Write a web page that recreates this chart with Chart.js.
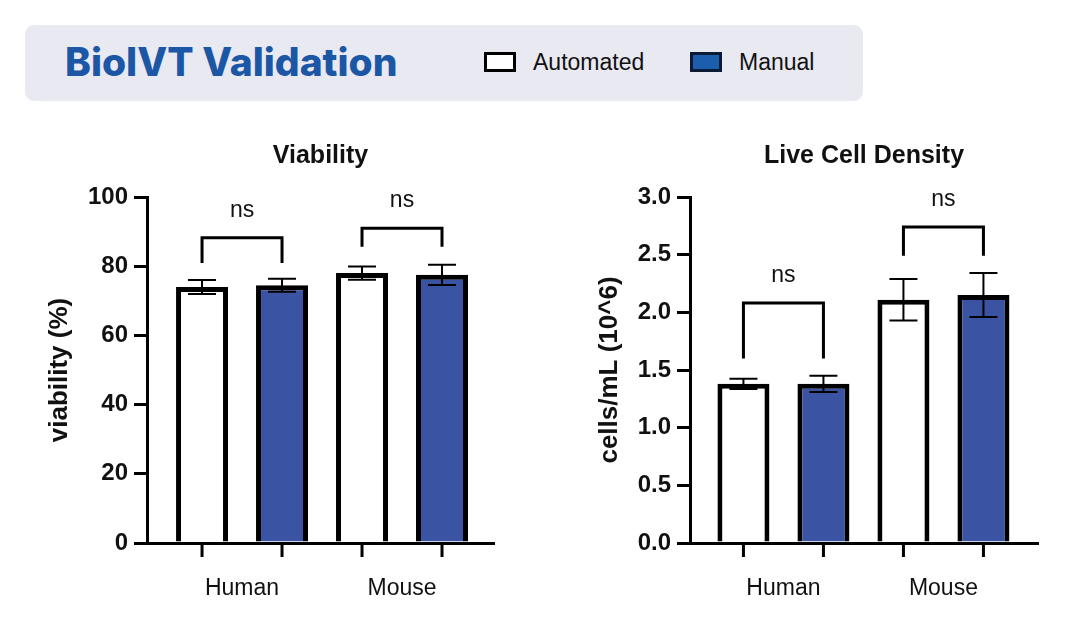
<!DOCTYPE html>
<html>
<head>
<meta charset="utf-8">
<script src="https://cdn.jsdelivr.net/npm/chart.js@4.4.1/dist/chart.umd.min.js"></script>
<style>
  html, body { margin: 0; padding: 0; background: #ffffff; }
  body { width: 1080px; height: 633px; position: relative; overflow: hidden; font-family: "Liberation Sans", Arial, sans-serif; }
  #hdr { position: absolute; left: 25px; top: 25px; width: 838px; height: 76px; background: #e9e9f1; border-radius: 9px; }
  #hdrTitle { position: absolute; left: 40px; top: 13px; font-family: Inter, "Open Sans", sans-serif; font-weight: 800; font-size: 39px; color: #1c57a5; letter-spacing: 0px; white-space: nowrap; }
  .lg { position: absolute; top: 24px; height: 26px; display: flex; align-items: center; font-size: 23px; color: #111; white-space: nowrap; }
  .lg .box { width: 26px; height: 14px; border: 3px solid #000; margin-right: 17px; }
  #c1wrap { position: absolute; left: 0; top: 120px; width: 540px; height: 513px; }
  #c2wrap { position: absolute; left: 540px; top: 120px; width: 540px; height: 513px; }
</style>
</head>
<body>
<div id="hdr">
  <div id="hdrTitle">BioIVT Validation</div>
  <div class="lg" style="left:459px;"><span class="box" style="background:#ffffff;"></span><span>Automated</span></div>
  <div class="lg" style="left:665px;"><span class="box" style="background:#1b5eab;border-color:#0b1b36;"></span><span>Manual</span></div>
</div>
<div id="c1wrap"><canvas id="c1" width="540" height="513"></canvas></div>
<div id="c2wrap"><canvas id="c2" width="540" height="513"></canvas></div>
<script>
// ---------- data ----------
const categories = ['Human', 'Mouse'];
const seriesNames = ['Automated', 'Manual'];

const viabilityAutomated = [74.0, 78.0];
const viabilityAutomatedErr = [2.0, 1.9];
const viabilityManual = [74.5, 77.5];
const viabilityManualErr = [1.9, 2.9];
const viabilityTicks = [0, 20, 40, 60, 80, 100];
const viabilityBracketTop = [88.2, 91.0];
const viabilityBracketLeg = [80.9, 85.6];
const viabilitySig = ['ns', 'ns'];

const densityAutomated = [1.38, 2.11];
const densityAutomatedErr = [0.045, 0.18];
const densityManual = [1.38, 2.15];
const densityManualErr = [0.07, 0.19];
const densityTicks = [0.0, 0.5, 1.0, 1.5, 2.0, 2.5, 3.0];
const densityBracketTop = [2.08, 2.74];
const densityBracketLeg = [1.60, 2.49];
const densitySig = ['ns', 'ns'];

// ---------- styling ----------
const FONT = '"Liberation Sans", Arial, sans-serif';
const INK = '#000000';
const TXT = '#111111';
const fills = ['#ffffff', '#3b53a3'];

function annotPlugin(p) {
  return {
    id: 'annot_' + p.key,
    afterDatasetsDraw(chart) {
      const ctx = chart.ctx;
      const y = chart.scales.y;
      const area = chart.chartArea;
      const metas = [chart.getDatasetMeta(0), chart.getDatasetMeta(1)];
      ctx.save();
      // error bars
      ctx.strokeStyle = INK;
      ctx.lineWidth = 2;
      const errs = [p.errA, p.errM];
      const vals = [p.valA, p.valM];
      metas.forEach((m, d) => {
        m.data.forEach((el, i) => {
          const hi = y.getPixelForValue(vals[d][i] + errs[d][i]);
          const lo = y.getPixelForValue(vals[d][i] - errs[d][i]);
          ctx.beginPath();
          ctx.moveTo(el.x, hi); ctx.lineTo(el.x, lo);
          ctx.moveTo(el.x - 14, hi); ctx.lineTo(el.x + 14, hi);
          ctx.moveTo(el.x - 14, lo); ctx.lineTo(el.x + 14, lo);
          ctx.stroke();
        });
      });
      // x tick marks under each bar
      ctx.lineWidth = 3;
      metas.forEach(m => m.data.forEach(el => {
        ctx.beginPath();
        ctx.moveTo(el.x, area.bottom);
        ctx.lineTo(el.x, area.bottom + 14);
        ctx.stroke();
      }));
      // significance brackets
      ctx.lineWidth = 3;
      ctx.lineJoin = 'miter';
      ctx.fillStyle = TXT;
      ctx.font = '23px ' + FONT;
      ctx.textAlign = 'center';
      ctx.textBaseline = 'middle';
      categories.forEach((c, i) => {
        const x1 = metas[0].data[i].x, x2 = metas[1].data[i].x;
        const yt = y.getPixelForValue(p.brTop[i]);
        const yl = y.getPixelForValue(p.brLeg[i]);
        ctx.beginPath();
        ctx.moveTo(x1, yl); ctx.lineTo(x1, yt); ctx.lineTo(x2, yt); ctx.lineTo(x2, yl);
        ctx.stroke();
        ctx.fillText(p.sig[i], (x1 + x2) / 2, yt - 27);
      });
      // panel title
      ctx.font = 'bold 25px ' + FONT;
      ctx.fillStyle = TXT;
      ctx.fillText(p.title, (area.left + area.right) / 2, 36);
      ctx.restore();
    }
  };
}

function makeChart(id, p) {
  const datasets = [
    { label: seriesNames[0], data: p.valA.map((v, i) => ({ x: i, y: v })) },
    { label: seriesNames[1], data: p.valM.map((v, i) => ({ x: i, y: v })) }
  ].map((ds, d) => Object.assign(ds, {
    backgroundColor: fills[d], borderColor: INK, borderWidth: 5,
    borderSkipped: 'start', categoryPercentage: 1.0, barPercentage: 0.65
  }));
  return new Chart(document.getElementById(id), {
    type: 'bar',
    data: { datasets },
    options: {
      responsive: false, animation: false,
      layout: { padding: { left: p.padL, right: p.padR, top: 77, bottom: 20 } },
      plugins: { legend: { display: false }, title: { display: false }, tooltip: { enabled: false } },
      scales: {
        x: {
          type: 'linear', bounds: 'data', offset: false, min: p.xMin, max: p.xMax,
          afterBuildTicks: s => { s.ticks = categories.map((c, i) => ({ value: i })); },
          afterFit: s => { s.height = 70; },
          grid: { display: false, drawTicks: false },
          border: { display: true, color: INK, width: 3 },
          ticks: { callback: (v, i) => categories[i], font: { family: FONT, size: 23 }, color: TXT, padding: 32, maxRotation: 0, autoSkip: false }
        },
        y: {
          min: p.ticks[0], max: p.ticks[p.ticks.length - 1],
          afterBuildTicks: s => { s.ticks = p.ticks.map(v => ({ value: v })); },
          afterFit: s => { s.width = p.yW; },
          grid: { drawOnChartArea: false, drawTicks: true, tickLength: 13, color: INK, lineWidth: 3 },
          border: { display: true, color: INK, width: 3 },
          ticks: { callback: v => p.fmt(v), font: { family: FONT, size: 24, weight: 'bold' }, color: TXT, padding: 6 },
          title: { display: true, text: p.yTitle, font: { family: FONT, size: 26, weight: 'bold' }, color: TXT, padding: 0 }
        }
      }
    },
    plugins: [annotPlugin(p)]
  });
}

makeChart('c1', {
  key: 'v', title: 'Viability', yTitle: 'viability (%)',
  valA: viabilityAutomated, errA: viabilityAutomatedErr, valM: viabilityManual, errM: viabilityManualErr,
  ticks: viabilityTicks, fmt: v => String(v),
  brTop: viabilityBracketTop, brLeg: viabilityBracketLeg, sig: viabilitySig,
  padL: 44, yW: 103, padR: 46, xMin: -0.594, xMax: 1.575
});
makeChart('c2', {
  key: 'd', title: 'Live Cell Density', yTitle: 'cells/mL (10^6)',
  valA: densityAutomated, errA: densityAutomatedErr, valM: densityManual, errM: densityManualErr,
  ticks: densityTicks, fmt: v => v.toFixed(1),
  brTop: densityBracketTop, brLeg: densityBracketLeg, sig: densitySig,
  padL: 54, yW: 96, padR: 42, xMin: -0.584, xMax: 1.591
});
</script>
</body>
</html>
